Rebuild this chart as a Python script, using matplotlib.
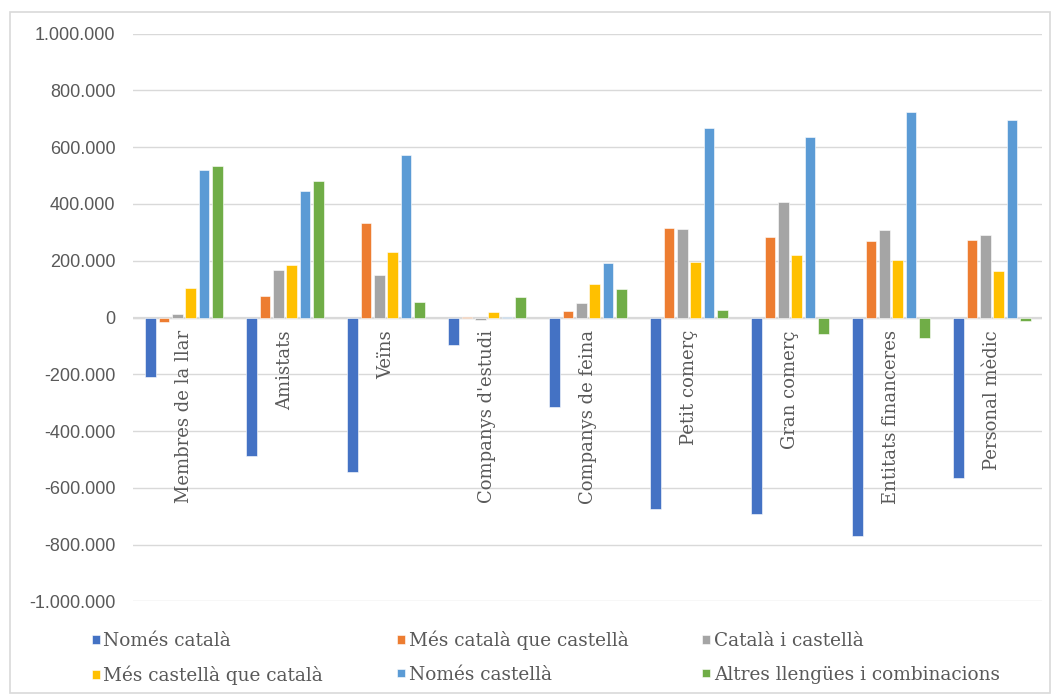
import numpy as np
import matplotlib
matplotlib.use("Agg")
import matplotlib.pyplot as plt
from matplotlib.patches import Rectangle
from matplotlib.ticker import FuncFormatter

categories = ["Membres de la llar", "Amistats", "Veïns", "Companys d'estudi",
              "Companys de feina", "Petit comerç", "Gran comerç",
              "Entitats financeres", "Personal mèdic"]

series_names = ["Només català", "Més català que castellà", "Català i castellà",
                "Més castellà que català", "Només castellà",
                "Altres llengües i combinacions"]

nomes_catala = [-211000, -487000, -545000, -96000, -316000, -676000, -691000, -770000, -566000]
mes_catala = [-16000, 75000, 334000, 1000, 22000, 315000, 283000, 268000, 273000]
catala_castella = [13000, 166000, 150000, -10000, 50000, 313000, 406000, 307000, 290000]
mes_castella = [105000, 185000, 232000, 20000, 119000, 194000, 221000, 203000, 165000]
nomes_castella = [520000, 447000, 573000, 2000, 192000, 667000, 635000, 724000, 696000]
altres = [535000, 481000, 56000, 71000, 100000, 26000, -58000, -73000, -12000]

series = [nomes_catala, mes_catala, catala_castella, mes_castella, nomes_castella, altres]
colors = ["#4472C4", "#ED7D31", "#A5A5A5", "#FFC000", "#5B9BD5", "#70AD47"]

text_color = "#595959"
grid_color = "#D9D9D9"

fig = plt.figure(figsize=(10.54, 6.98), dpi=100)
ax = fig.add_axes([0.1266, 0.1385, 0.8624, 0.8132])

x = np.arange(len(categories))
step = 0.132
width = 0.106
handles = []
for k, (vals, col) in enumerate(zip(series, colors)):
    offs = (k - 2.5) * step
    b = ax.bar(x + offs, vals, width=width, color=col, edgecolor="white",
               linewidth=0.4, label=series_names[k], zorder=3)
    handles.append(b)

ax.set_xlim(-0.5, len(categories) - 0.5)
ax.set_ylim(-1000000, 1000000)
ax.set_yticks(np.arange(-1000000, 1000001, 200000))
ax.yaxis.set_major_formatter(FuncFormatter(lambda v, p: f"{int(v):,}".replace(",", ".")))
ax.grid(axis="y", color=grid_color, linewidth=1.0, zorder=0)
ax.axhline(0, color=grid_color, linewidth=1.6, zorder=2)
ax.set_xticks([])
ax.tick_params(axis="y", length=0, pad=13, labelsize=13, labelcolor=text_color)
for lab in ax.get_yticklabels():
    lab.set_fontfamily("Liberation Sans")
for s in ax.spines.values():
    s.set_visible(False)

for i, cat in enumerate(categories):
    ax.annotate(cat, xy=(i, 0), xytext=(0, -9), textcoords="offset points",
                rotation=90, ha="center", va="top", fontsize=13,
                family="DejaVu Serif", color=text_color, zorder=4)

# row-wise legend order like the original
order = [0, 3, 1, 4, 2, 5]
leg = fig.legend([handles[i] for i in order], [series_names[i] for i in order],
                 ncol=3, loc="lower left", bbox_to_anchor=(0.075, 0.0),
                 frameon=False, prop={"family": "DejaVu Serif", "size": 13.3},
                 handlelength=0.42, handleheight=0.35, handletextpad=0.2,
                 columnspacing=4.0, labelspacing=0.85, borderaxespad=0.3)
for t in leg.get_texts():
    t.set_color(text_color)

fig.patches.append(Rectangle((10 / 1054, 5 / 698), 1040 / 1054, 681 / 698,
                             transform=fig.transFigure, fill=False,
                             edgecolor=grid_color, linewidth=1.2))

fig.savefig("out.png", dpi=100)
